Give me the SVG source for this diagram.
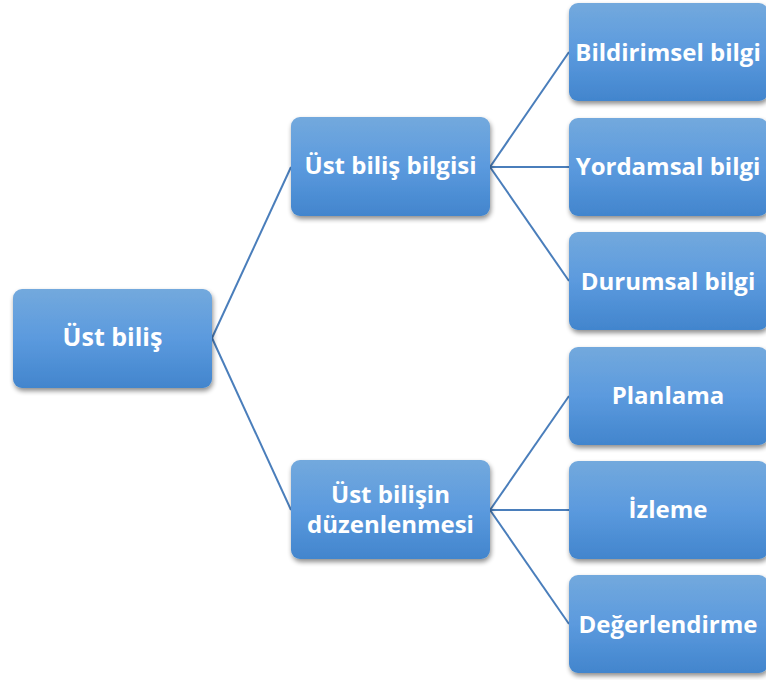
<svg xmlns="http://www.w3.org/2000/svg" width="766" height="680" viewBox="0 0 766 680">
<style>
.box{fill:url(#g);filter:url(#sh)}
.t{font-family:"Open Sans","Noto Sans",sans-serif;font-weight:700;font-size:24px;fill:#fff;text-anchor:middle}
.c{stroke:#4a7ebb;stroke-width:2;fill:none}
</style>
<defs>
<linearGradient id="g" x1="0" y1="0" x2="0" y2="1">
<stop offset="0" stop-color="#73a9dd"/>
<stop offset="0.5" stop-color="#5b9ade"/>
<stop offset="1" stop-color="#4285cd"/>
</linearGradient>
<filter id="sh" x="-10%" y="-10%" width="125%" height="130%">
<feGaussianBlur in="SourceAlpha" stdDeviation="2.5"/>
<feOffset dx="1" dy="3" result="b"/>
<feComponentTransfer><feFuncA type="linear" slope="0.45"/></feComponentTransfer>
<feMerge><feMergeNode/><feMergeNode in="SourceGraphic"/></feMerge>
</filter>
</defs>
<rect width="766" height="680" fill="#fff"/>
<g id="connectors">
<line class="c" x1="212" y1="338" x2="291" y2="167"/>
<line class="c" x1="212" y1="338" x2="291" y2="510"/>
<line class="c" x1="490" y1="167" x2="569" y2="52"/>
<line class="c" x1="490" y1="167" x2="569" y2="167"/>
<line class="c" x1="490" y1="167" x2="569" y2="281"/>
<line class="c" x1="490" y1="510" x2="569" y2="396"/>
<line class="c" x1="490" y1="510" x2="569" y2="510"/>
<line class="c" x1="490" y1="510" x2="569" y2="624"/>
</g>
<g id="root"><rect class="box" x="13" y="289" width="199" height="99" rx="9"/><text class="t" x="112.5" y="346" style="font-size:25px">Üst biliş</text></g>
<g id="mid1"><rect class="box" x="291" y="117" width="199" height="99" rx="9"/><text class="t" x="390.5" y="174">Üst biliş bilgisi</text></g>
<g id="mid2"><rect class="box" x="291" y="460" width="199" height="99" rx="9"/><text class="t" x="390.5" y="503">Üst bilişin</text><text class="t" x="390.5" y="533">düzenlenmesi</text></g>
<g id="leaf1"><rect class="box" x="569" y="3" width="199" height="98" rx="9"/><text class="t" x="668" y="61">Bildirimsel bilgi</text></g>
<g id="leaf2"><rect class="box" x="569" y="118" width="199" height="98" rx="9"/><text class="t" x="668" y="175">Yordamsal bilgi</text></g>
<g id="leaf3"><rect class="box" x="569" y="232" width="199" height="98" rx="9"/><text class="t" x="668" y="290">Durumsal bilgi</text></g>
<g id="leaf4"><rect class="box" x="569" y="347" width="199" height="98" rx="9"/><text class="t" x="668" y="404">Planlama</text></g>
<g id="leaf5"><rect class="box" x="569" y="461" width="199" height="98" rx="9"/><text class="t" x="668" y="518">İzleme</text></g>
<g id="leaf6"><rect class="box" x="569" y="575" width="199" height="98" rx="9"/><text class="t" x="668" y="633">Değerlendirme</text></g>
</svg>
